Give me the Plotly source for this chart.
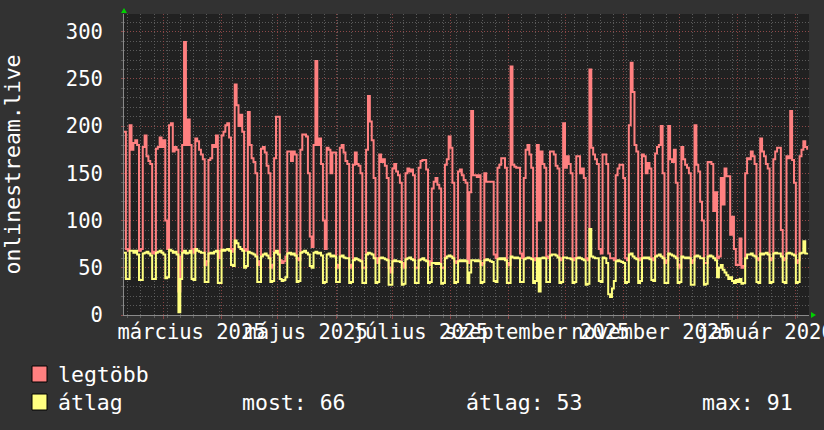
import plotly.graph_objects as go
import pandas as pd

# ---------------- data (daily values) ----------------
start_date = "2025-02-08"
end_date = "2026-02-08"

legtobb = [194,
    70, 68, 201, 175, 182, 185, 180,
    68, 70, 178, 190, 168, 163, 160,
    65, 67, 176, 178, 188, 178, 185,
    100, 70, 201, 203, 173, 178, 175,
    25, 62, 180, 289, 180, 207, 180,
    70, 66, 187, 184, 175, 170, 165,
    53, 57, 164, 166, 180, 178, 190,
    60, 68, 190, 194, 201, 203, 188,
    67, 70, 244, 222, 200, 212, 194,
    70, 68, 215, 180, 166, 162, 150,
    53, 57, 176, 178, 172, 158, 150,
    50, 53, 166, 210, 210, 58, 55,
    57, 62, 173, 173, 163, 173, 170,
    60, 58, 175, 191, 191, 189, 150,
    83, 72, 180, 269, 180, 187, 160,
    100, 70, 177, 175, 150, 172, 172,
    50, 53, 177, 180, 172, 163, 160,
    50, 53, 159, 172, 160, 158, 150,
    50, 50, 175, 232, 205, 185, 145,
    60, 55, 170, 162, 165, 158, 145,
    50, 45, 155, 160, 152, 148, 140,
    55, 50, 150, 155, 152, 154, 148,
    50, 50, 156, 163, 164, 164, 154,
    53, 57, 134, 141, 145, 138, 134,
    50, 50, 159, 165, 189, 177, 140,
    57, 55, 152, 154, 148, 143, 140,
    55, 130, 216, 148, 148, 146, 148,
    53, 55, 150, 141, 141, 141, 141,
    64, 60, 156, 159, 166, 166, 156,
    55, 53, 263, 159, 157, 156, 156,
    65, 60, 145, 175, 180, 170, 156,
    58, 60, 180, 100, 173, 160, 156,
    62, 60, 173, 173, 170, 158, 155,
    58, 60, 203, 156, 168, 160, 150,
    58, 60, 168, 168, 150, 155, 145,
    60, 58, 260, 177, 170, 165, 160,
    70, 65, 170, 170, 160, 65, 60,
    60, 58, 148, 155, 159, 159, 145,
    60, 58, 201, 267, 236, 180, 173,
    60, 58, 170, 168, 150, 161, 155,
    60, 58, 171, 178, 180, 200, 150,
    55, 58, 200, 165, 162, 175, 140,
    53, 50, 178, 165, 159, 156, 150,
    55, 58, 201, 159, 152, 120, 100,
    55, 55, 162, 162, 160, 110, 130,
    60, 62, 145, 117, 155, 147, 147,
    85, 104, 70, 53, 53, 81, 50,
    52, 150, 166, 165, 173, 168, 160,
    60, 58, 187, 173, 168, 160, 155,
    58, 60, 165, 173, 177, 177, 90,
    58, 60, 168, 166, 216, 164, 140,
    55, 58, 168, 175, 184, 178, 175]

atlag = [66,
    38, 38, 68, 68, 66, 68, 64,
    37, 37, 65, 66, 67, 65, 63,
    38, 38, 66, 67, 68, 66, 64,
    39, 40, 69, 68, 66, 67, 64,
    3, 38, 66, 68, 65, 66, 68,
    38, 37, 70, 68, 67, 66, 66,
    35, 35, 65, 66, 65, 67, 68,
    34, 34, 69, 68, 69, 70, 68,
    53, 52, 79, 76, 72, 70, 68,
    50, 52, 67, 66, 65, 64, 62,
    35, 35, 62, 64, 65, 63, 60,
    35, 36, 66, 68, 64, 38, 36,
    37, 40, 65, 66, 64, 65, 63,
    35, 36, 66, 67, 68, 66, 64,
    52, 50, 66, 67, 65, 66, 63,
    34, 35, 64, 65, 62, 63, 62,
    35, 35, 62, 63, 61, 60, 60,
    34, 35, 58, 60, 59, 58, 57,
    34, 34, 64, 66, 65, 64, 60,
    34, 35, 60, 61, 60, 59, 58,
    32, 32, 57, 58, 57, 57, 56,
    32, 33, 59, 60, 61, 59, 58,
    34, 34, 58, 59, 60, 58, 57,
    34, 35, 55, 55, 54, 55, 54,
    33, 34, 60, 62, 63, 62, 60,
    34, 35, 57, 58, 57, 58, 57,
    34, 45, 58, 58, 57, 58, 57,
    34, 35, 58, 59, 58, 57, 56,
    36, 35, 59, 60, 59, 60, 58,
    34, 34, 62, 61, 60, 61, 60,
    35, 35, 59, 60, 61, 60, 59,
    34, 36, 60, 25, 60, 61, 60,
    35, 35, 63, 64, 64, 63, 61,
    34, 35, 61, 61, 60, 60, 59,
    34, 35, 60, 61, 60, 59, 58,
    32, 33, 91, 62, 61, 60, 60,
    36, 35, 61, 60, 55, 22, 19,
    28, 36, 57, 58, 57, 56, 55,
    34, 35, 64, 65, 62, 60, 59,
    34, 36, 60, 61, 60, 61, 59,
    37, 36, 62, 63, 64, 62, 60,
    34, 34, 65, 64, 63, 62, 60,
    34, 35, 62, 61, 60, 61, 60,
    32, 32, 62, 63, 62, 60, 60,
    32, 33, 62, 63, 62, 60, 58,
    40, 50, 53, 48, 45, 42, 38,
    40, 36, 34, 37, 35, 38, 33,
    34, 60, 64, 64, 65, 63, 62,
    35, 34, 65, 64, 65, 66, 64,
    34, 35, 65, 66, 65, 65, 62,
    35, 34, 65, 66, 65, 64, 63,
    34, 35, 65, 66, 78, 65, 66]

month_starts = ["2025-03-01", "2025-04-01", "2025-05-01", "2025-06-01",
                "2025-07-01", "2025-08-01", "2025-09-01", "2025-10-01",
                "2025-11-01", "2025-12-01", "2026-01-01", "2026-02-01"]
label_dates = ["2025-03-16", "2025-05-16", "2025-07-16",
               "2025-09-16", "2025-11-16", "2026-01-16"]
label_texts = ["március 2025", "május 2025", "július 2025",
               "szeptember 2025", "november 2025", "január 2026"]
y_ticks = [0, 50, 100, 150, 200, 250, 300]
y_title = "onlinestream.live"
series_names = ["legtöbb", "átlag"]
series_colors = ["#ff8080", "#ffff80"]
stat_texts = ["most: 66", "átlag: 53", "max: 91"]

# ---------------- figure ----------------
W, H = 824, 430
L, R, T, B = 124, 15, 14, 115
PW, PH = W - L - R, H - T - B

def px(x):
    return (x - L) / PW

def py(y):
    return (H - B - y) / PH

dates = pd.date_range(start_date, periods=len(legtobb), freq="D")

MAJOR = "rgba(150,70,70,0.85)"
MINOR = "rgba(110,110,110,0.75)"
DASH = "1px,2px"
FONT = "DejaVu Sans Mono"

fig = go.Figure()
fig.add_trace(go.Scatter(x=dates, y=legtobb, mode="lines", line_shape="hv",
                         line=dict(color=series_colors[0], width=2),
                         name=series_names[0], xaxis="x", yaxis="y"))
fig.add_trace(go.Scatter(x=dates, y=atlag, mode="lines", line_shape="hv",
                         line=dict(color=series_colors[1], width=2),
                         name=series_names[1], xaxis="x2", yaxis="y"))

fig.update_layout(
    width=W, height=H,
    margin=dict(l=L, r=R, t=T, b=B, pad=0, autoexpand=False),
    paper_bgcolor="#323232", plot_bgcolor="#212121",
    showlegend=False,
    font=dict(family=FONT, color="#ffffff", size=20),
    xaxis=dict(
        type="date", range=[start_date, end_date], automargin=False,
        tickmode="array", tickvals=month_starts, showticklabels=False,
        ticks="outside", ticklen=3, tickcolor=MAJOR, tickwidth=1,
        showgrid=True, gridcolor=MAJOR, griddash=DASH, gridwidth=1,
        minor=dict(dtick=7 * 86400000, tick0="2025-02-10",
                   showgrid=True, gridcolor=MINOR, griddash=DASH,
                   ticks="outside", ticklen=2, tickcolor=MINOR),
        showline=True, linecolor="#8a8a8a", linewidth=1,
        zeroline=False, fixedrange=True,
    ),
    xaxis2=dict(
        type="date", overlaying="x", matches="x", anchor="y", side="bottom",
        range=[start_date, end_date], automargin=False, tickangle=0,
        tickmode="array", tickvals=label_dates, ticktext=label_texts,
        ticks="", showgrid=False, showline=False, zeroline=False,
        tickfont=dict(family=FONT, size=20.5, color="#ffffff"),
        ticklabelstandoff=2, ticklabeloverflow="allow",
    ),
    yaxis=dict(
        range=[0, 318.7], tickmode="array", tickvals=y_ticks, automargin=False,
        ticks="outside", ticklen=2, tickcolor=MAJOR,
        showgrid=True, gridcolor=MAJOR, griddash=DASH, gridwidth=1,
        minor=dict(dtick=10, showgrid=True, gridcolor=MINOR, griddash=DASH,
                   ticks="outside", ticklen=2, tickcolor=MINOR),
        showline=True, linecolor="#8a8a8a", linewidth=1, zeroline=False,
        tickfont=dict(family=FONT, size=20.5, color="#ffffff"),
        ticklabelstandoff=14, fixedrange=True,
        title=dict(text=y_title, standoff=40,
                   font=dict(family=FONT, size=21.5, color="#ffffff")),
    ),
)

# axis end arrows (green)
fig.add_shape(type="path", xref="paper", yref="paper",
              path=f"M {px(121)},{py(13)} L {px(127)},{py(13)} L {px(124)},{py(8)} Z",
              fillcolor="#00d000", line=dict(width=0))
fig.add_shape(type="path", xref="paper", yref="paper",
              path=f"M {px(811)},{py(312)} L {px(811)},{py(318)} L {px(816)},{py(315)} Z",
              fillcolor="#00d000", line=dict(width=0))

# legend
rows = [374, 402]
for i, (nm, col) in enumerate(zip(series_names, series_colors)):
    yc = rows[i]
    fig.add_shape(type="rect", xref="paper", yref="paper",
                  x0=px(32), x1=px(47), y0=py(yc - 8), y1=py(yc + 8),
                  fillcolor=col, line=dict(color="#000000", width=1))
    fig.add_annotation(xref="paper", yref="paper", x=px(56), y=py(yc),
                       xanchor="left", yanchor="middle", showarrow=False,
                       text=nm, font=dict(family=FONT, size=21.5, color="#ffffff"))
for xpos, txt in zip([240, 464, 700], stat_texts):
    fig.add_annotation(xref="paper", yref="paper", x=px(xpos), y=py(rows[1]),
                       xanchor="left", yanchor="middle", showarrow=False,
                       text=txt, font=dict(family=FONT, size=21.5, color="#ffffff"))

fig.write_html(
    "out.html",
    config={"displayModeBar": False, "staticPlot": True},
    post_script="document.body.style.margin='0px';document.body.style.overflow='hidden';",
)
